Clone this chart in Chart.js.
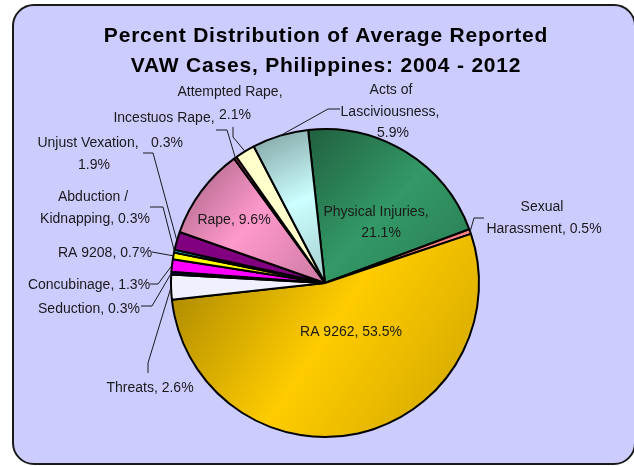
<!DOCTYPE html>
<html>
<head>
<meta charset="utf-8">
<script src="https://cdn.jsdelivr.net/npm/chart.js@4.4.0/dist/chart.umd.min.js"></script>
<style>
  body { margin: 0; background: #fff; }
  #wrap { position: relative; width: 634px; height: 466px; overflow: hidden; }
  #frame {
    position: absolute; left: 12px; top: 4px; width: 624px; height: 461px;
    box-sizing: border-box; background: #ccccff;
    border: 2px solid #1a1a1a; border-radius: 22px;
  }
  #chart { position: absolute; left: 0; top: 0; }
</style>
</head>
<body>
<div id="wrap">
  <div id="frame"></div>
  <canvas id="chart" width="634" height="466"></canvas>
</div>
<script>
// data
var categories = [
  "Physical Injuries", "Sexual Harassment", "RA 9262", "Threats", "Seduction",
  "Concubinage", "RA 9208", "Abduction / Kidnapping", "Unjust Vexation", "Rape",
  "Incestuos Rape", "Attempted Rape", "Acts of Lasciviousness"
];
var values = [21.1, 0.5, 53.5, 2.6, 0.3, 1.3, 0.7, 0.3, 1.9, 9.6, 0.3, 2.1, 5.9];
var titleLines = ["Percent Distribution of Average Reported", "VAW Cases, Philippines: 2004 - 2012"];

var sliceColors = [
  "#339966", "#ff8080", "#ffcc00", "#f0f0ff", "#000080",
  "#ff00ff", "#ffff00", "#00ffff", "#800080", "#ff99cc",
  "#993366", "#ffffcc", "#ccffff"
];

// label layout: words per line, centre of each line, leader line hook
var labelLayout = [
  { words: [2, 1], at: [[376, 212], [381, 233]] },
  { words: [1, 2], at: [[542, 207], [544, 229]], hook: [[484, 218], [474, 218]] },
  { words: [3], at: [[351, 332]] },
  { words: [2], at: [[150, 388]], hook: [[148, 373], [148, 363]] },
  { words: [2], at: [[89, 309]], hook: [[141, 306], [152, 306]] },
  { words: [2], at: [[89, 285]], hook: [[150, 284], [158, 284]] },
  { words: [3], at: [[105, 253]], hook: [[152, 252]] },
  { words: [2, 2], at: [[93, 197], [95, 219]], hook: [[150, 207], [163, 207]] },
  { words: [2, 1], at: [[88, 143], [94, 165]], hook: [[143, 153], [153, 153]] },
  { words: [2], at: [[234, 220]] },
  { words: [2, 1], at: [[164, 118], [167, 143]], hook: [[216, 130], [227, 130]] },
  { words: [2, 1], at: [[230, 92], [235, 115]], hook: [[233, 127], [233, 137]] },
  { words: [2, 1, 1], at: [[391, 90], [390, 112], [393, 133]], hook: [[340, 109], [328, 109]] }
];

var FONT = "'Liberation Sans', Arial, sans-serif";
var ROTATION = -6.3;

function shade(hex, f) {
  var n = parseInt(hex.slice(1), 16);
  var r = Math.round(((n >> 16) & 255) * f);
  var g = Math.round(((n >> 8) & 255) * f);
  var b = Math.round((n & 255) * f);
  return "rgb(" + r + "," + g + "," + b + ")";
}

// diagonal gradient over the bounding box of the bigger slices
function sliceFill(context) {
  var chart = context.chart;
  var i = context.dataIndex;
  var area = chart.chartArea;
  var base = sliceColors[i];
  if (!area || i === undefined || values[i] < 5) return base;
  var cx = (area.left + area.right) / 2;
  var cy = (area.top + area.bottom) / 2;
  var r = Math.min(area.width, area.height) / 2;
  var total = values.reduce(function (a, b) { return a + b; }, 0);
  var before = 0;
  for (var k = 0; k < i; k++) before += values[k];
  var a0 = (ROTATION - 90) * Math.PI / 180 + before / total * 2 * Math.PI;
  var a1 = a0 + values[i] / total * 2 * Math.PI;
  var minX = cx, maxX = cx, minY = cy, maxY = cy;
  for (var s = 0; s <= 24; s++) {
    var a = a0 + (a1 - a0) * s / 24;
    var px = cx + r * Math.cos(a), py = cy + r * Math.sin(a);
    minX = Math.min(minX, px); maxX = Math.max(maxX, px);
    minY = Math.min(minY, py); maxY = Math.max(maxY, py);
  }
  var grad = chart.ctx.createLinearGradient(minX, minY, maxX, maxY);
  grad.addColorStop(0, shade(base, 0.62));
  grad.addColorStop(0.5, base);
  grad.addColorStop(1, shade(base, 0.8));
  return grad;
}

function labelLines(i) {
  var words = (categories[i] + ",").split(" ");
  words.push(values[i].toFixed(1) + "%");
  var out = [], p = 0;
  labelLayout[i].words.forEach(function (n) {
    out.push(words.slice(p, p + n).join(" "));
    p += n;
  });
  return out;
}

var labelPlugin = {
  id: "pieLabels",
  afterDraw: function (chart) {
    var ctx = chart.ctx;
    ctx.save();
    // title
    ctx.fillStyle = "#000";
    ctx.font = "bold 21px " + FONT;
    ctx.textAlign = "center";
    ctx.textBaseline = "middle";
    ctx.letterSpacing = "0.8px";
    ctx.fillText(titleLines[0], 326, 36);
    ctx.fillText(titleLines[1], 326, 66);
    ctx.letterSpacing = "0px";

    var meta = chart.getDatasetMeta(0);
    ctx.font = "14px " + FONT;
    ctx.fillStyle = "#1a1a1a";
    ctx.strokeStyle = "#1a1a1a";
    ctx.lineWidth = 1;
    meta.data.forEach(function (arc, i) {
      var lay = labelLayout[i];
      labelLines(i).forEach(function (t, j) {
        ctx.fillText(t, lay.at[j][0], lay.at[j][1]);
      });
      if (lay.hook) {
        var p = arc.getProps(["x", "y", "startAngle", "endAngle", "outerRadius"], true);
        var mid = (p.startAngle + p.endAngle) / 2;
        var ex = p.x + p.outerRadius * Math.cos(mid);
        var ey = p.y + p.outerRadius * Math.sin(mid);
        ctx.beginPath();
        ctx.moveTo(lay.hook[0][0], lay.hook[0][1]);
        for (var h = 1; h < lay.hook.length; h++) ctx.lineTo(lay.hook[h][0], lay.hook[h][1]);
        ctx.lineTo(ex, ey);
        ctx.stroke();
      }
    });
    ctx.restore();
  }
};

new Chart(document.getElementById("chart").getContext("2d"), {
  type: "pie",
  data: {
    labels: categories,
    datasets: [{
      data: values,
      backgroundColor: sliceFill,
      borderColor: "#000",
      borderWidth: 2
    }]
  },
  options: {
    responsive: false,
    animation: false,
    rotation: ROTATION,
    layout: { padding: { top: 128, bottom: 28, left: 170, right: 154 } },
    plugins: {
      legend: { display: false },
      title: { display: false },
      tooltip: { enabled: false }
    }
  },
  plugins: [labelPlugin]
});
</script>
</body>
</html>
